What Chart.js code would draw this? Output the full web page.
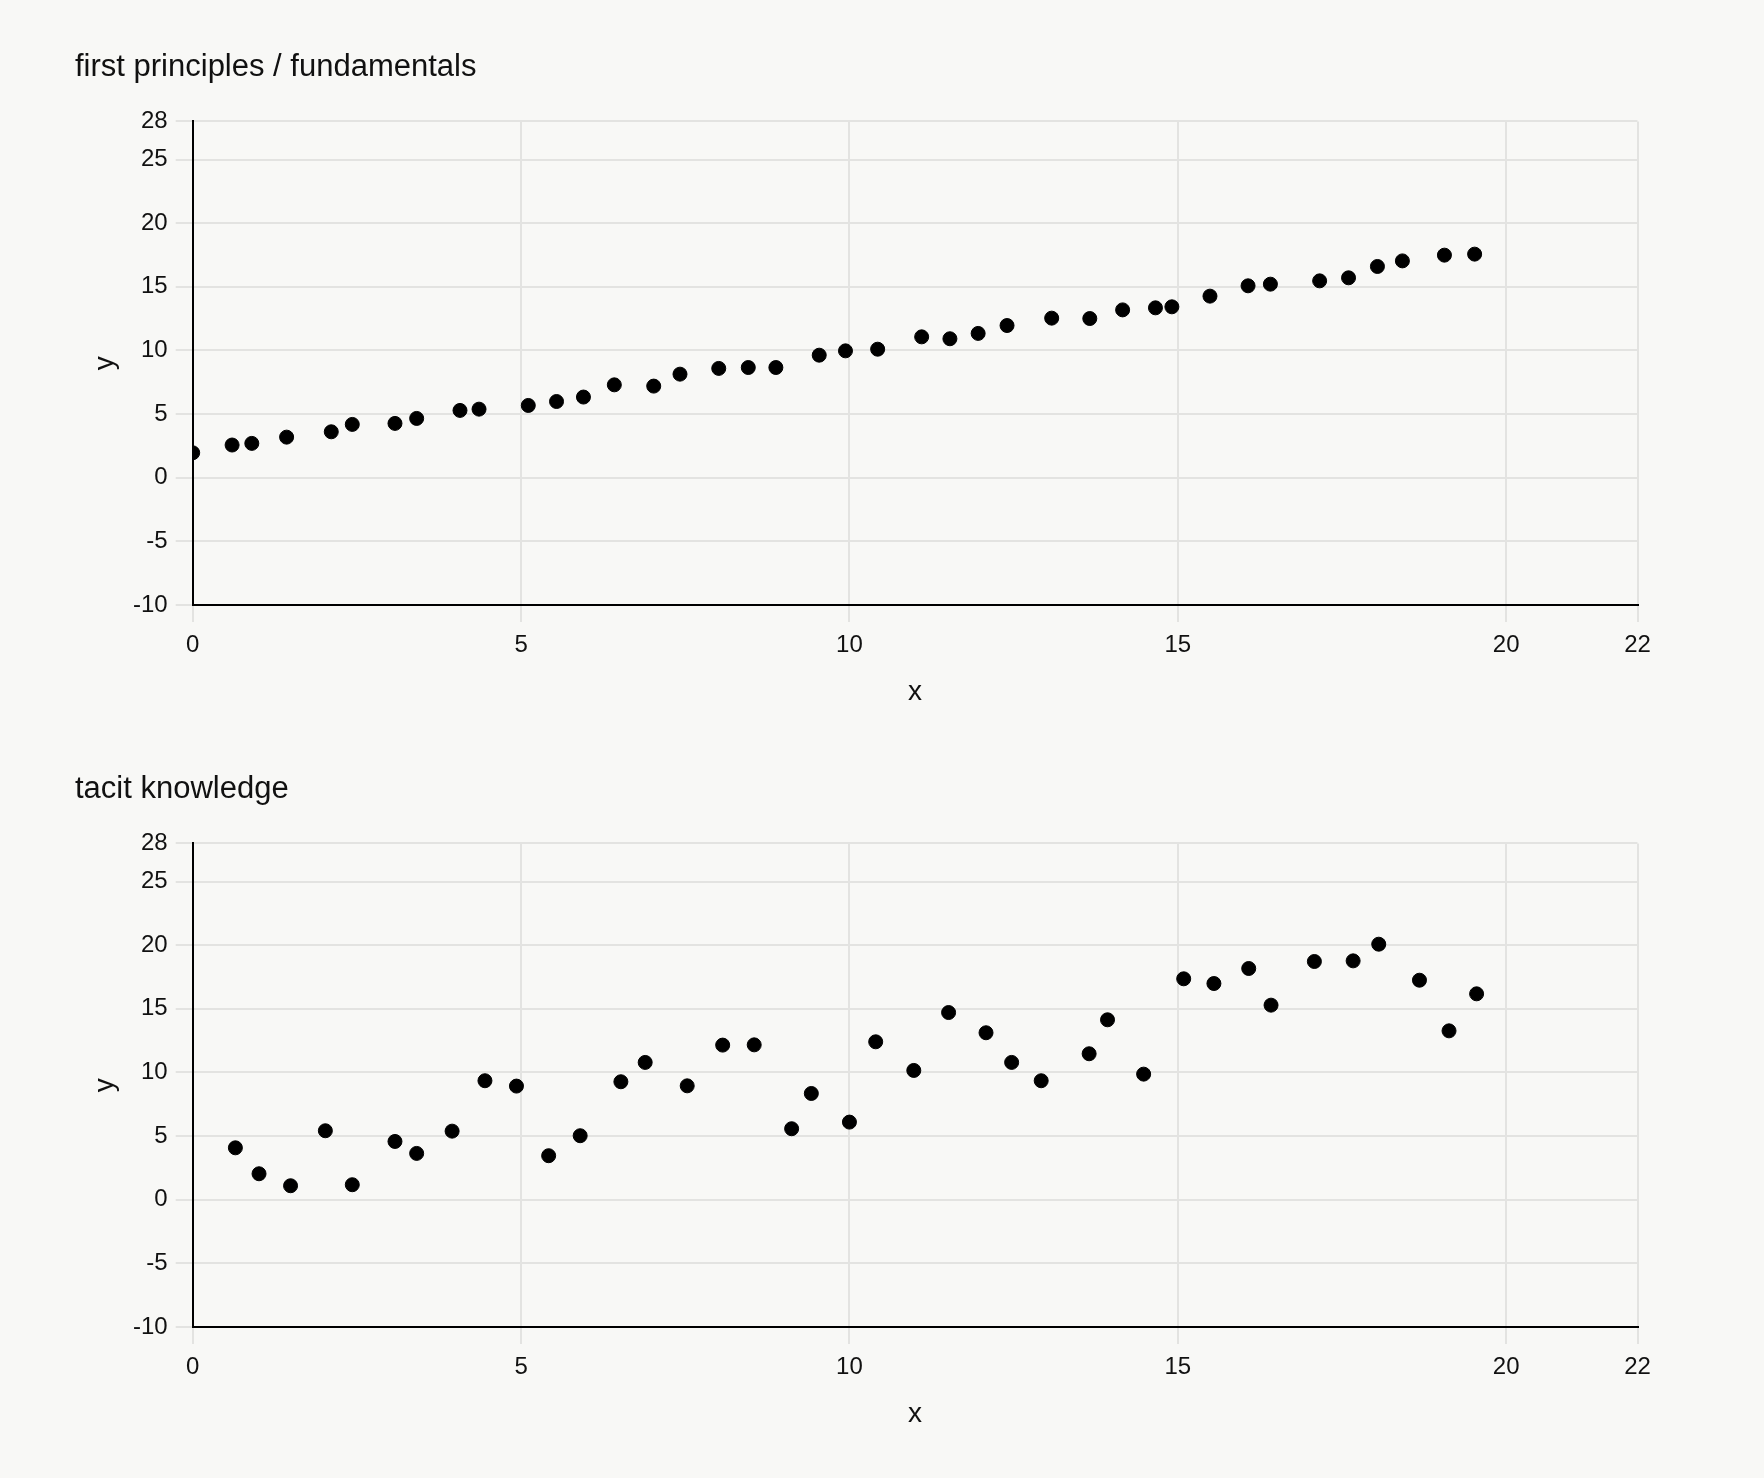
<!DOCTYPE html>
<html>
<head>
<meta charset="utf-8">
<title>first principles / tacit knowledge</title>
<script src="https://cdn.jsdelivr.net/npm/chart.js@4.4.1/dist/chart.umd.min.js"></script>
<style>
  html, body {
    margin: 0;
    padding: 0;
    background: #f8f8f6;
  }
  .chart-box {
    position: relative;
    width: 1764px;
    height: 722px;
  }
</style>
</head>
<body>
<div class="chart-box"><canvas id="fundamentalsChart"></canvas></div>
<div class="chart-box"><canvas id="tacitChart"></canvas></div>

<script>
// 目盛り
const xTicks = [0, 5, 10, 15, 20, 22];
const yTicks = [-10, -5, 0, 5, 10, 15, 20, 25, 28];

// first principles / fundamentals
const fundamentalsX = [0, 0.6, 0.9, 1.43, 2.11, 2.43, 3.08, 3.41, 4.07, 4.36, 5.11, 5.54, 5.95, 6.42, 7.02, 7.42, 8.01, 8.46, 8.88, 9.54, 9.94, 10.43, 11.1, 11.53, 11.96, 12.4, 13.08, 13.66, 14.16, 14.66, 14.91, 15.49, 16.07, 16.41, 17.16, 17.6, 18.04, 18.42, 19.06, 19.52];
const fundamentalsY = [1.96, 2.57, 2.7, 3.19, 3.61, 4.19, 4.27, 4.66, 5.29, 5.39, 5.68, 5.99, 6.34, 7.3, 7.2, 8.14, 8.59, 8.66, 8.66, 9.63, 9.97, 10.1, 11.07, 10.92, 11.34, 11.96, 12.54, 12.51, 13.19, 13.35, 13.43, 14.27, 15.08, 15.21, 15.47, 15.71, 16.6, 17.04, 17.49, 17.57];

// tacit knowledge
const tacitX = [0.65, 1.01, 1.49, 2.02, 2.43, 3.08, 3.41, 3.95, 4.45, 4.93, 5.42, 5.9, 6.52, 6.89, 7.53, 8.07, 8.55, 9.12, 9.42, 10.0, 10.4, 10.98, 11.51, 12.08, 12.47, 12.92, 13.65, 13.93, 14.48, 15.09, 15.55, 16.08, 16.42, 17.08, 17.67, 18.06, 18.68, 19.13, 19.55];
const tacitY = [4.08, 2.04, 1.1, 5.42, 1.18, 4.58, 3.64, 5.39, 9.35, 8.93, 3.46, 5.03, 9.27, 10.79, 8.95, 12.15, 12.17, 5.58, 8.35, 6.1, 12.41, 10.16, 14.71, 13.12, 10.79, 9.35, 11.47, 14.14, 9.87, 17.36, 16.99, 18.17, 15.29, 18.72, 18.77, 20.08, 17.25, 13.27, 16.18];

const fontFamily = '"Liberation Sans", Arial, Helvetica, sans-serif';
const textColor = "#111";
const gridColor = "#e3e3e1";

// x,y配列から点データを作る
function toPoints(xs, ys) {
  return xs.map((x, i) => ({ x: x, y: ys[i] }));
}

// 散布図を1つ作る
function makeChart(canvasId, titleText, xs, ys) {
  const ctx = document.getElementById(canvasId).getContext("2d");
  return new Chart(ctx, {
    type: "scatter",
    data: {
      datasets: [
        {
          data: toPoints(xs, ys),
          backgroundColor: "#000",
          borderColor: "#000",
          borderWidth: 1,
          pointRadius: 7,
          clip: 0,
        },
      ],
    },
    options: {
      responsive: true,
      maintainAspectRatio: false,
      animation: false,
      layout: {
        padding: { left: 75, top: 20, right: 126.5, bottom: 9.2 },
      },
      plugins: {
        legend: { display: false },
        tooltip: { enabled: false },
        title: {
          display: true,
          text: titleText,
          align: "start",
          color: textColor,
          font: { family: fontFamily, size: 31, weight: "normal" },
          padding: { top: 28.8, bottom: 35.4 },
        },
      },
      scales: {
        x: {
          type: "linear",
          min: 0,
          max: 22,
          afterBuildTicks: (s) => {
            s.ticks = xTicks.map((v) => ({ value: v }));
          },
          afterFit: (s) => {
            s.height = 107.8;
          },
          grid: { color: gridColor, lineWidth: 2, tickLength: 17 },
          border: { color: "#000", width: 2 },
          ticks: {
            color: textColor,
            padding: 9,
            maxRotation: 0,
            font: { family: fontFamily, size: 24 },
          },
          title: {
            display: true,
            text: "x",
            color: textColor,
            font: { family: fontFamily, size: 28 },
            padding: { top: 0, bottom: 4 },
          },
        },
        y: {
          type: "linear",
          min: -10,
          max: 28,
          afterBuildTicks: (s) => {
            s.ticks = yTicks.map((v) => ({ value: v }));
          },
          afterFit: (s) => {
            s.width = 117.7;
          },
          grid: { color: gridColor, lineWidth: 2, tickLength: 17 },
          border: { color: "#000", width: 2 },
          ticks: {
            color: textColor,
            padding: 8,
            font: { family: fontFamily, size: 24 },
          },
          title: {
            display: true,
            text: "y",
            color: textColor,
            font: { family: fontFamily, size: 28 },
            padding: { top: 13.2, bottom: 0 },
          },
        },
      },
    },
  });
}

makeChart("fundamentalsChart", "first principles / fundamentals", fundamentalsX, fundamentalsY);
makeChart("tacitChart", "tacit knowledge", tacitX, tacitY);
</script>
</body>
</html>
